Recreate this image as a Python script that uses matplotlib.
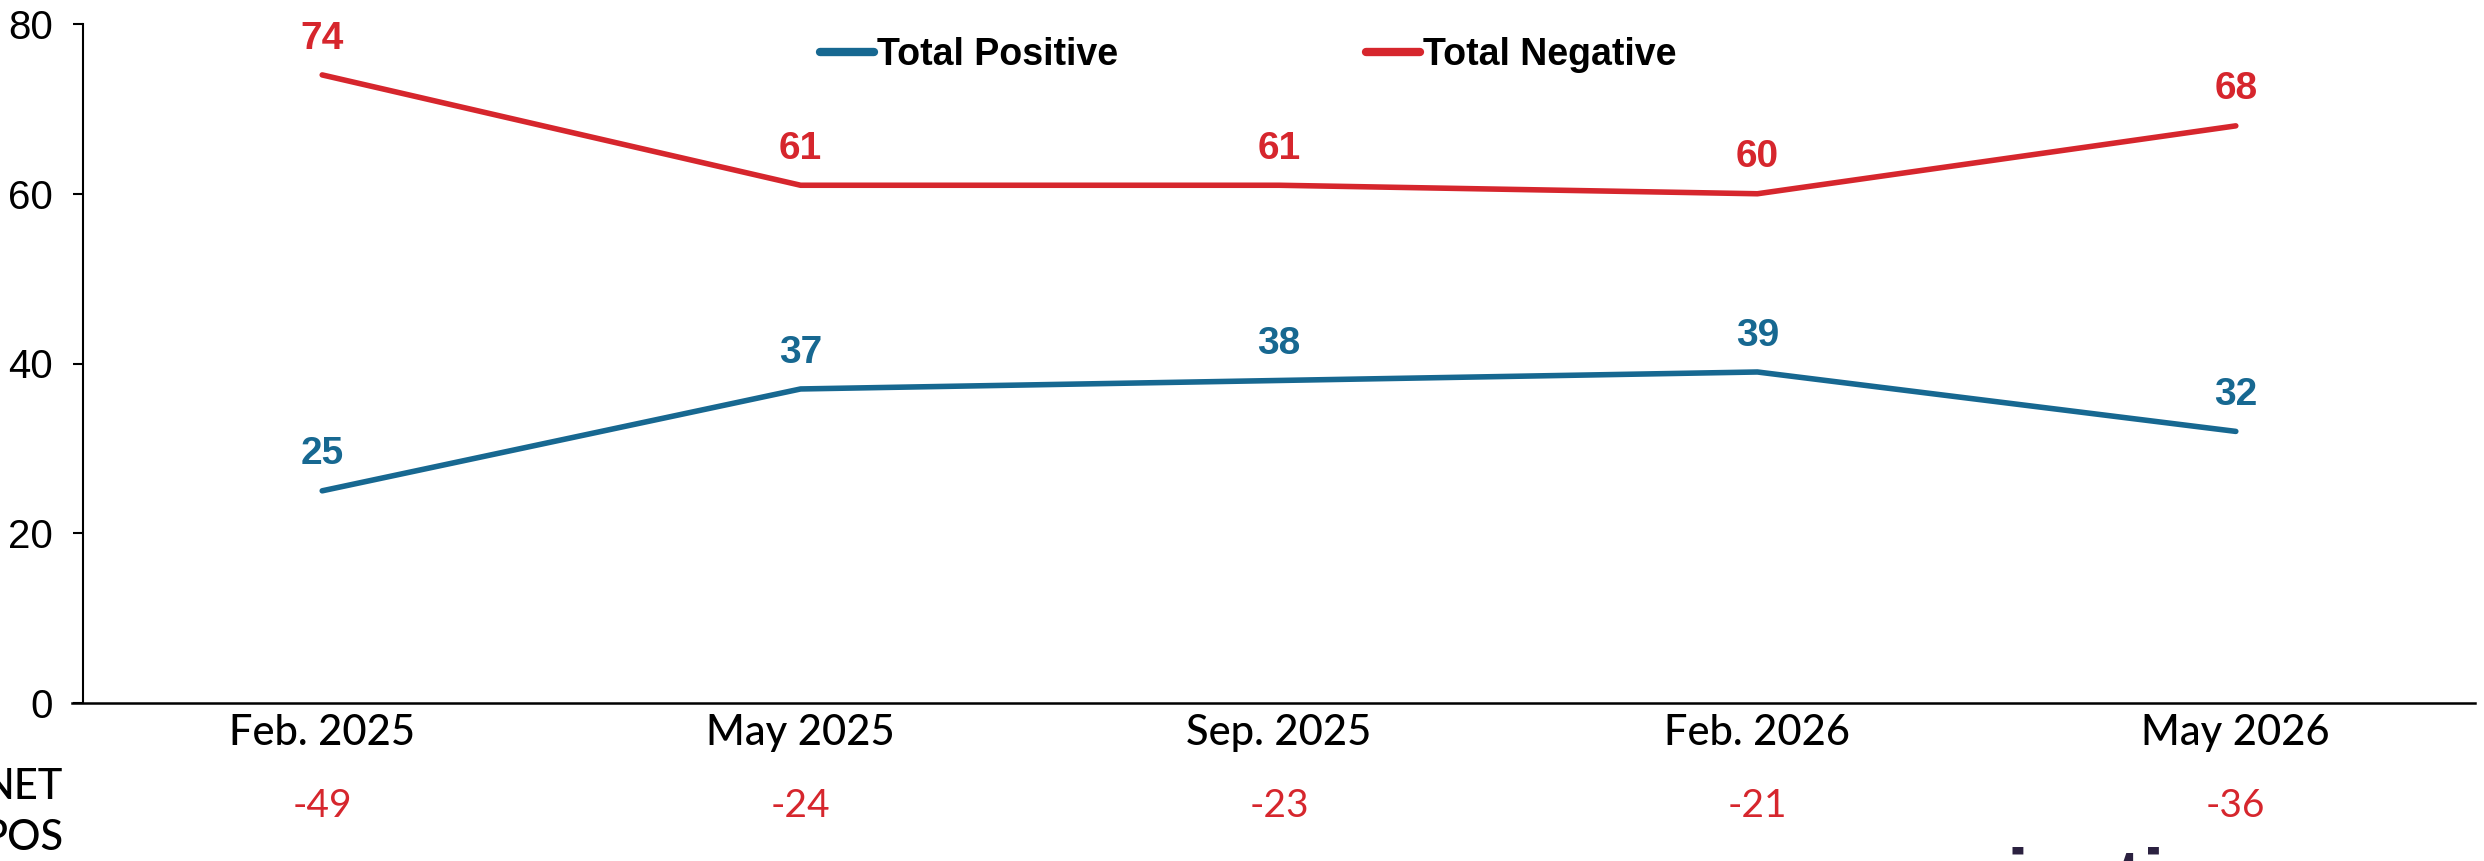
import matplotlib
matplotlib.use("Agg")
import matplotlib.pyplot as plt
from matplotlib.transforms import blended_transform_factory

categories = ["Feb. 2025", "May 2025", "Sep. 2025", "Feb. 2026", "May 2026"]
total_positive = [25, 37, 38, 39, 32]
total_negative = [74, 61, 61, 60, 68]
net_pos = [-49, -24, -23, -21, -36]
y_ticks = [0, 20, 40, 60, 80]

BLUE = "#176891"
RED = "#D6262D"

W, H, DPI = 2484, 861, 100
fig = plt.figure(figsize=(W / DPI, H / DPI), dpi=DPI)
ax = fig.add_axes([83 / W, 1 - 703 / H, (2475 - 83) / W, (703 - 24) / H])

x = list(range(len(categories)))
ax.plot(x, total_positive, color=BLUE, lw=4.0, solid_capstyle="round",
        solid_joinstyle="round", label="Total Positive")
ax.plot(x, total_negative, color=RED, lw=4.0, solid_capstyle="round",
        solid_joinstyle="round", label="Total Negative")

lab_font = dict(family=["Liberation Sans", "DejaVu Sans"], weight="bold", size=28)
for xi, v in zip(x, total_positive):
    ax.annotate(str(v), (xi, v), xytext=(0, 19), textcoords="offset points",
                ha="center", va="baseline", color=BLUE, **lab_font)
for xi, v in zip(x, total_negative):
    ax.annotate(str(v), (xi, v), xytext=(0, 19), textcoords="offset points",
                ha="center", va="baseline", color=RED, **lab_font)

ax.set_xlim(-0.5, 4.5)
ax.set_ylim(0, 80)
ax.set_yticks(y_ticks)
ax.set_yticklabels([str(t) for t in y_ticks], family=["Liberation Sans", "DejaVu Sans"], fontsize=29)
ax.set_xticks(x)
ax.set_xticklabels(categories, family=["Lato", "DejaVu Sans"], fontsize=30, weight="medium")
ax.tick_params(axis="x", length=0, pad=8)
ax.tick_params(axis="y", length=7.5, width=1.5, pad=14, direction="out", colors="black")

for s in ["top", "right"]:
    ax.spines[s].set_visible(False)
ax.spines["left"].set_linewidth(1.5)
ax.spines["bottom"].set_linewidth(1.8)
ax.spines["bottom"].set_bounds(-0.522, 4.5)

# NET POS row
tr = blended_transform_factory(ax.transData, fig.transFigure)
for xi, v in zip(x, net_pos):
    ax.text(xi, 1 - 806 / H, str(v), transform=tr, ha="center", va="center",
            color=RED, fontsize=28, family=["Lato", "DejaVu Sans"])
fig.text(63 / W, 1 - 787 / H, "NET", ha="right", va="center", fontsize=30,
         family=["Lato", "DejaVu Sans"], color="black", weight="medium")
fig.text(63 / W, 1 - 838 / H, "POS", ha="right", va="center", fontsize=30,
         family=["Lato", "DejaVu Sans"], color="black", weight="medium")

# legend
leg = fig.legend(loc="center left", bbox_to_anchor=(820 / W, 1 - 55 / H), ncol=2,
                 frameon=False, borderpad=0, borderaxespad=0, handlelength=1.45,
                 handletextpad=0.08, columnspacing=6.6,
                 prop=dict(family=["Liberation Sans", "DejaVu Sans"], weight="bold", size=27))
for line in leg.get_lines():
    line.set_linewidth(6)
    line.set_solid_capstyle("round")

# clipped footer text
fig.text(2007 / W, 1 - 905 / H, "ication", ha="left", va="baseline", fontsize=57,
         weight="bold", family=["Liberation Sans", "DejaVu Sans"], color="#2B2140")

fig.savefig("out.png", dpi=DPI)
